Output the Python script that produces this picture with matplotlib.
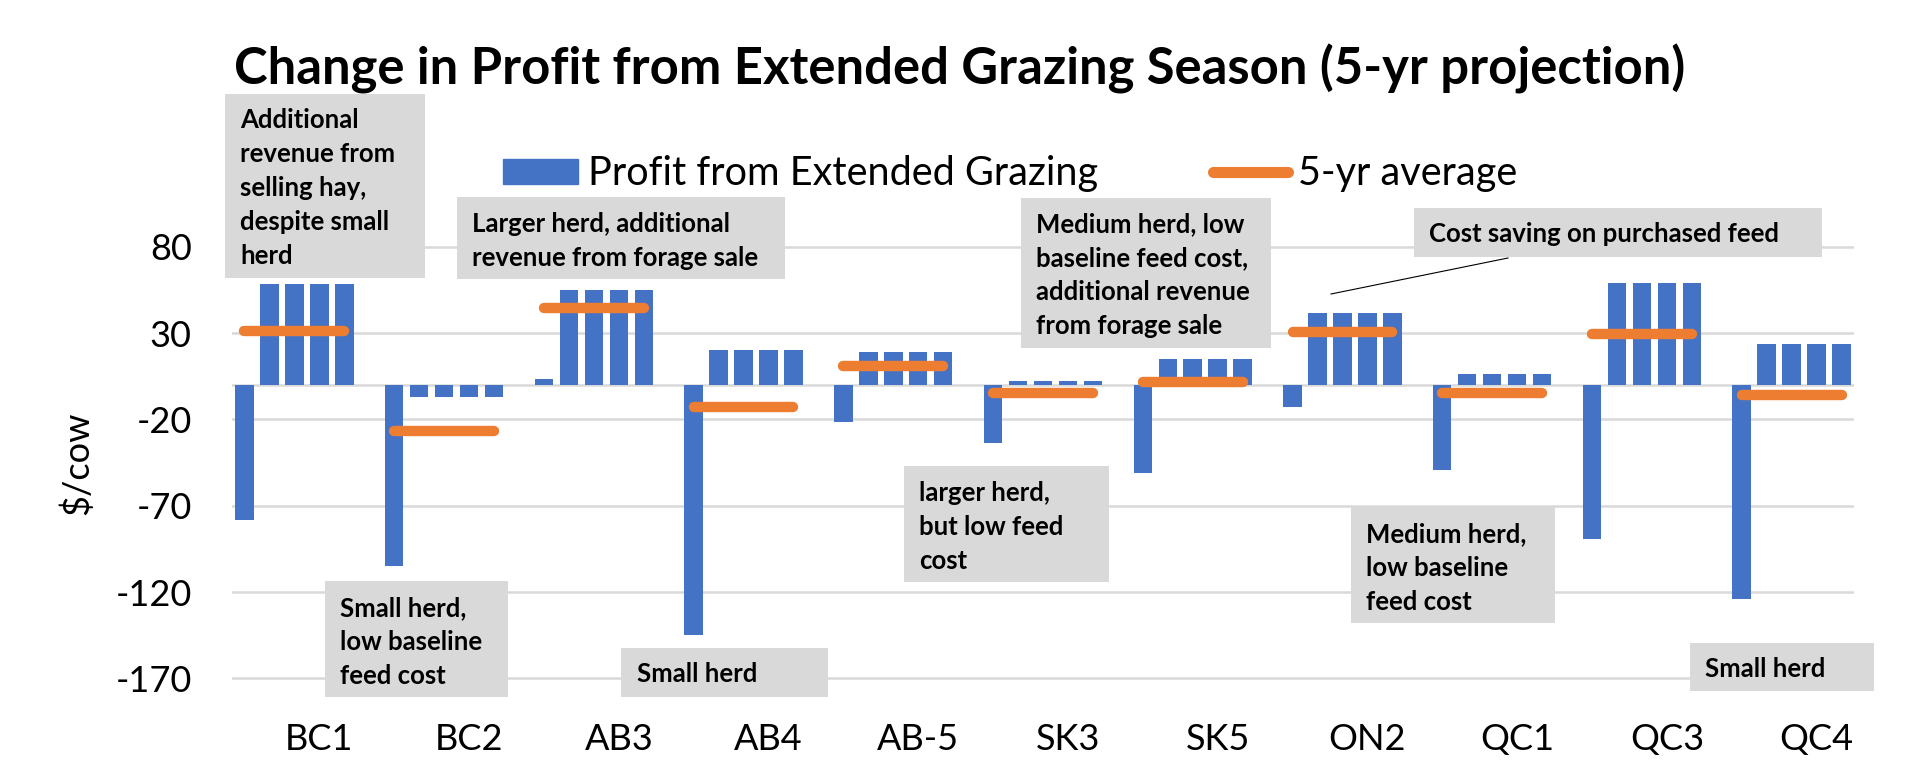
import matplotlib.pyplot as plt
from matplotlib.patches import Rectangle
from matplotlib.lines import Line2D

# sites and profit per year (yr1..yr5), $/cow
sites = ['BC1', 'BC2', 'AB3', 'AB4', 'AB-5', 'SK3', 'SK5', 'ON2', 'QC1', 'QC3', 'QC4']
profit = [
    [-78, 58.4, 58.4, 58.4, 58.4],
    [-105, -6.8, -6.8, -6.8, -6.8],
    [3.3, 55, 55, 55, 55],
    [-145, 20, 20, 20, 20],
    [-21.5, 19, 19, 19, 19],
    [-33.5, 2.5, 2.5, 2.5, 2.5],
    [-51, 15, 15, 15, 15],
    [-13, 41.5, 41.5, 41.5, 41.5],
    [-49.5, 6.2, 6.2, 6.2, 6.2],
    [-89, 59, 59, 59, 59],
    [-124, 24, 24, 24, 24],
]
avg5 = [31, -26.5, 44.5, -13, 11, -4.5, 2, 30.8, -4.8, 29.7, -5.8]
yticks = [-170, -120, -70, -20, 30, 80]

BLUE = '#4472C4'
ORANGE = '#ED7D31'
GRID = '#D9D9D9'
W, H = 1920, 784

plt.rcParams['font.family'] = ['Lato', 'DejaVu Sans']
plt.rcParams['axes.unicode_minus'] = False


def fx(x):
    return x / W


def fy(y):
    return 1 - y / H


fig = plt.figure(figsize=(19.2, 7.84), dpi=100)
ax = fig.add_axes([fx(232), fy(681.8), 1622 / W, (681.8 - 212.4) / H])

# each site takes 6 slots: 5 years + one empty slot
for g, vals in enumerate(profit):
    xs = [6 * g + k for k in range(5)]
    ax.bar(xs, vals, width=0.74, color=BLUE, zorder=3)
    ax.plot([xs[0], xs[-1]], [avg5[g], avg5[g]], color=ORANGE, lw=7.5,
            solid_capstyle='round', zorder=4)

ax.set_xlim(-0.5, 64.5)
ax.set_ylim(-172, 100)
ax.set_yticks(yticks)
ax.set_xticks([6 * g + 3 for g in range(len(sites))])
ax.set_xticklabels(sites)
ax.tick_params(axis='both', length=0, labelsize=26)
ax.tick_params(axis='y', pad=29)
ax.tick_params(axis='x', pad=30)
ax.grid(axis='y', color=GRID, lw=1.8, zorder=0)
ax.axhline(0, color=GRID, lw=1.8, zorder=1)
for s in ax.spines.values():
    s.set_visible(False)

fig.text(fx(77), fy(463), '$/cow', rotation=90, fontsize=26, ha='center', va='center')

fig.text(fx(234), fy(84), 'Change in Profit from Extended Grazing Season (5-yr projection)',
         fontsize=36.5, fontweight='bold', ha='left', va='baseline')

# legend
handles = [Rectangle((0, 0), 1, 1, color=BLUE),
           Line2D([], [], color=ORANGE, lw=8, solid_capstyle='round')]
fig.legend(handles, ['Profit from Extended Grazing', '5-yr average'], ncol=2,
           loc='center', bbox_to_anchor=(fx(1010), fy(174)), frameon=False,
           fontsize=28.5, handlelength=1.9, handleheight=0.6, handletextpad=0.25,
           columnspacing=2.9)

# text boxes: (x0, y0, x1, y1, text x, first baseline, lines)
notes = [
    (225, 94, 425, 278, 240, 128, ['Additional', 'revenue from', 'selling hay,', 'despite small', 'herd']),
    (457, 197, 785, 279, 472, 232, ['Larger herd, additional', 'revenue from forage sale']),
    (325, 581, 508, 697, 340, 616, ['Small herd,', 'low baseline', 'feed cost']),
    (621, 648, 828, 697, 637, 682, ['Small herd']),
    (904, 466, 1109, 582, 919, 501, ['larger herd,', 'but low feed', 'cost']),
    (1021, 198, 1271, 348, 1036, 232, ['Medium herd, low', 'baseline feed cost,', 'additional revenue', 'from forage sale']),
    (1414, 208, 1822, 257, 1429, 242, ['Cost saving on purchased feed']),
    (1351, 506, 1555, 623, 1366, 542, ['Medium herd,', 'low baseline', 'feed cost']),
    (1690, 643, 1874, 691, 1705, 677, ['Small herd']),
]
for x0, y0, x1, y1, tx, ty, lines in notes:
    fig.patches.append(Rectangle((fx(x0), fy(y1)), (x1 - x0) / W, (y1 - y0) / H,
                                 transform=fig.transFigure, facecolor='#D9D9D9',
                                 edgecolor='none', zorder=5))
    for i, line in enumerate(lines):
        fig.text(fx(tx), fy(ty + 34 * i), line, fontsize=18.5, fontweight='bold',
                 ha='left', va='baseline', zorder=6)

# callout line for the ON2 note
fig.lines.append(Line2D([fx(1508), fx(1331)], [fy(258), fy(294)], color='black', lw=0.8,
                        transform=fig.transFigure, zorder=6))

fig.savefig('out.png', dpi=100)
